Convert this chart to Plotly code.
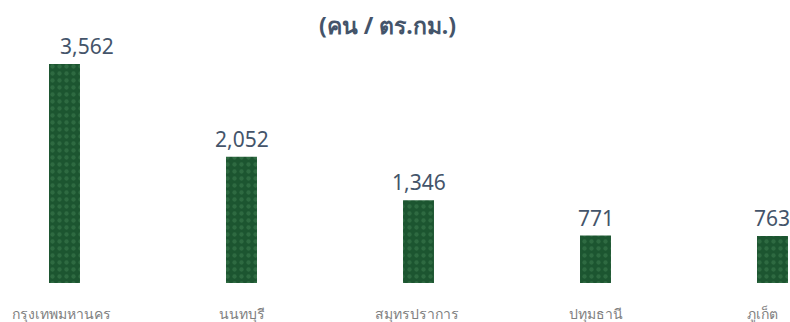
import plotly.graph_objects as go

categories = ["กรุงเทพมหานคร", "นนทบุรี", "สมุทรปราการ", "ปทุมธานี", "ภูเก็ต"]
values = [3562, 2052, 1346, 771, 763]
title_text = "(คน / ตร.กม.)"

# style (not data)
value_xshift = [22, 0, 0, 0, 0]
label_xshift = [-3, 0, -2, 0, -10]
x_pos = list(range(len(categories)))

fig = go.Figure()
fig.add_trace(go.Bar(
    x=x_pos, y=values, width=0.175,
    marker=dict(
        color="#1c5530",
        line=dict(width=0),
        pattern=dict(shape=".", fgcolor="#3f7f52", size=7, solidity=0.3),
    ),
    hoverinfo="skip",
))

for i, (c, v) in enumerate(zip(categories, values)):
    fig.add_annotation(
        x=i, y=v, xref="x", yref="y", text=f"{v:,}", showarrow=False,
        yanchor="bottom", yshift=2, xshift=value_xshift[i],
        font=dict(family="Noto Sans", size=21, color="#44546A"),
    )
    fig.add_annotation(
        x=i, y=0, xref="x", yref="y", text=c, showarrow=False,
        yanchor="top", yshift=-19, xshift=label_xshift[i],
        font=dict(family="Noto Sans", size=14, color="#7F7F7F"),
    )

fig.add_annotation(
    x=0.49, y=1, xref="paper", yref="paper", text=f"<b>{title_text}</b>",
    showarrow=False, yanchor="middle", yshift=-25,
    font=dict(family="Noto Sans", size=23, color="#44546A"),
)

fig.update_layout(
    width=790, height=322,
    margin=dict(l=0, r=0, t=0, b=39),
    paper_bgcolor="white", plot_bgcolor="white",
    showlegend=False,
    xaxis=dict(range=[-0.3644, 4.0989], showticklabels=False, showgrid=False,
               zeroline=False, showline=False, ticks=""),
    yaxis=dict(range=[0, 4603], showticklabels=False, showgrid=False,
               zeroline=False, showline=False, ticks=""),
)

fig.write_html("out.html")
